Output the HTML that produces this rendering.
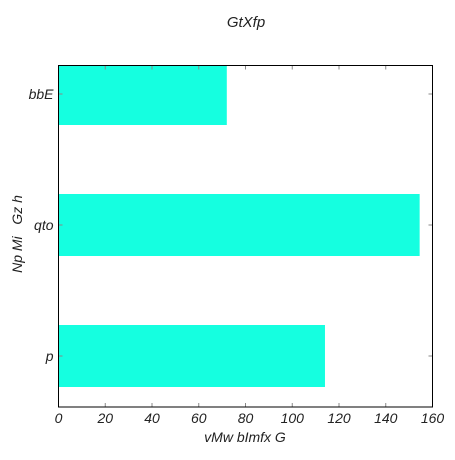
<!DOCTYPE html>
<html><head><meta charset="utf-8"><style>
body{margin:0;background:#fff;}
text{font-family:"Liberation Sans",sans-serif;font-style:italic;fill:#222;}
</style></head><body>
<svg id="chart" width="455" height="455" viewBox="0 0 455 455" xmlns="http://www.w3.org/2000/svg">
<text x="246" y="27" font-size="15" text-anchor="middle">GtXfp</text>
<text x="245" y="442" font-size="14" text-anchor="middle">vMw bImfx G</text>
<text transform="translate(22,234) rotate(-90)" font-size="14" text-anchor="middle" xml:space="preserve">Np Mi   Gz h</text>
<g id="bars"></g>
<g id="ticks"></g>
<rect x="58.5" y="65.5" width="374" height="341.5" fill="none" stroke="#000" stroke-width="1"/>
</svg>
<script>
const categories = ["p", "qto", "bbE"];
const values = [114, 154.5, 72];
const xTicks = [0, 20, 40, 60, 80, 100, 120, 140, 160];
const X0 = 58.5, X1 = 432.5, XMAX = 160;
const TOP = 65.5, BOT = 407;
function xs(v){ return X0 + (X1 - X0) * v / XMAX; }
function ys(i){ return 356 - i * 131; }
const NS = "http://www.w3.org/2000/svg";
const bars = document.getElementById('bars');
const ticks = document.getElementById('ticks');
const clip = document.createElementNS(NS, 'clipPath');
clip.setAttribute('id', 'pc');
const cr = document.createElementNS(NS, 'rect');
cr.setAttribute('x', X0); cr.setAttribute('y', TOP); cr.setAttribute('width', X1 - X0); cr.setAttribute('height', BOT - TOP);
clip.appendChild(cr);
document.getElementById('chart').appendChild(clip);
bars.setAttribute('clip-path', 'url(#pc)');
categories.forEach((c, i) => {
  const r = document.createElementNS(NS, 'rect');
  
  
  r.setAttribute('x', X0); r.setAttribute('y', ys(i) - 31);
  r.setAttribute('width', xs(values[i]) - X0); r.setAttribute('height', 62);
  r.setAttribute('fill', '#15ffe0');
  bars.appendChild(r);
  const t = document.createElementNS(NS, 'text');
  
  
  t.setAttribute('x', X0 - 5); t.setAttribute('y', ys(i) + 5);
  t.setAttribute('font-size', '14'); t.setAttribute('text-anchor', 'end');
  t.textContent = c;
  ticks.appendChild(t);
  [[X0, X0 + 4], [X1, X1 - 4]].forEach(p => {
    const l = document.createElementNS(NS, 'line');
    
    
    l.setAttribute('x1', p[0]); l.setAttribute('x2', p[1]);
    l.setAttribute('y1', ys(i)); l.setAttribute('y2', ys(i));
    l.setAttribute('stroke', '#888');
    ticks.appendChild(l);
  });
});
xTicks.forEach(v => {
  const t = document.createElementNS(NS, 'text');
  
  
  t.setAttribute('x', xs(v)); t.setAttribute('y', 423);
  t.setAttribute('font-size', '14'); t.setAttribute('text-anchor', 'middle');
  t.textContent = v;
  ticks.appendChild(t);
  [[BOT, BOT - 4], [TOP, TOP + 4]].forEach(p => {
    const l = document.createElementNS(NS, 'line');
    
    
    l.setAttribute('x1', xs(v)); l.setAttribute('x2', xs(v));
    l.setAttribute('y1', p[0]); l.setAttribute('y2', p[1]);
    l.setAttribute('stroke', '#888');
    ticks.appendChild(l);
  });
});
</script>
</body></html>
